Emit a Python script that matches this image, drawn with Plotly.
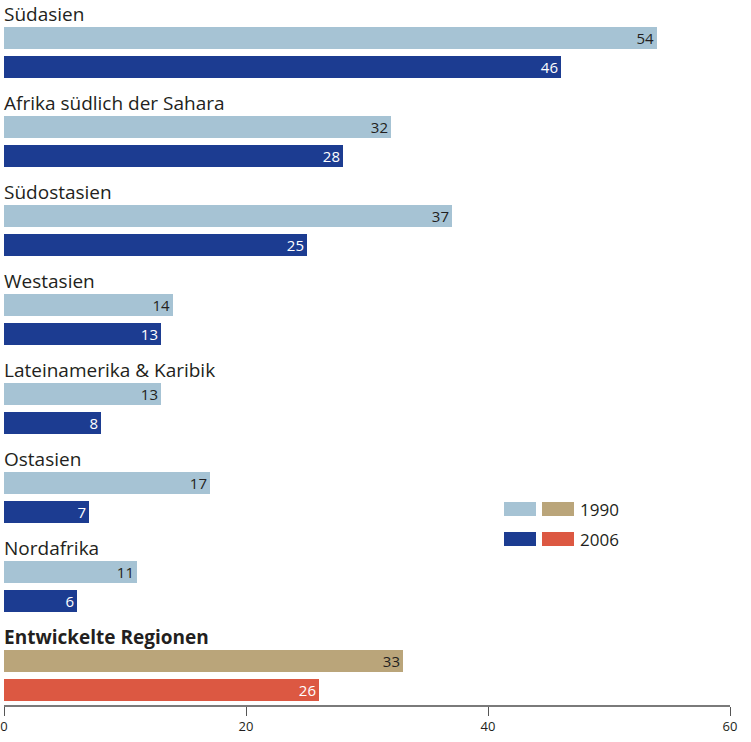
import plotly.graph_objects as go

regions = ["Südasien", "Afrika südlich der Sahara", "Südostasien", "Westasien",
           "Lateinamerika & Karibik", "Ostasien", "Nordafrika", "Entwickelte Regionen"]
v1990 = [54, 32, 37, 14, 13, 17, 11, 33]
v2006 = [46, 28, 25, 13, 8, 7, 6, 26]
legend_labels = ["1990", "2006"]
tick_vals = [0, 20, 40, 60]

C_LIGHT = "#a6c3d4"
C_DARK = "#1c3c91"
C_TAN = "#baa57a"
C_RED = "#dc5842"
TXT = "#231f20"
FONT = "Open Sans"

n = len(regions)
dev = n - 1
y1 = [i + 0.427 for i in range(n)]
y2 = [i + 0.753 for i in range(n)]
c1 = [C_TAN if i == dev else C_LIGHT for i in range(n)]
c2 = [C_RED if i == dev else C_DARK for i in range(n)]
t2col = ["white"] * n

fig = go.Figure()
fig.add_trace(go.Bar(x=v1990, y=y1, orientation="h", width=0.247,
                     marker=dict(color=c1, line=dict(width=0)),
                     text=[str(v) for v in v1990], textposition="inside",
                     insidetextanchor="end", textangle=0, constraintext="none",
                     textfont=dict(family=FONT, size=15, color=TXT),
                     showlegend=False, hoverinfo="skip"))
fig.add_trace(go.Bar(x=v2006, y=y2, orientation="h", width=0.247,
                     marker=dict(color=c2, line=dict(width=0)),
                     text=[str(v) for v in v2006], textposition="inside",
                     insidetextanchor="end", textangle=0, constraintext="none",
                     textfont=dict(family=FONT, size=15, color=t2col),
                     showlegend=False, hoverinfo="skip"))

ann = []
for i, r in enumerate(regions):
    ann.append(dict(x=0, y=i + 0.16, xref="x", yref="y", text=("<b>%s</b>" % r) if i == dev else r,
                    showarrow=False, xanchor="left", yanchor="middle", xshift=-2,
                    font=dict(family=FONT, size=19, color=TXT)))

# legend
def px(x): return (x - 4) / 726
def py(y): return 1 - y / 705
shapes = []
legend_rows = [(C_LIGHT, C_TAN, 502), (C_DARK, C_RED, 532)]
for (ca, cb, yt), lab in zip(legend_rows, legend_labels):
    shapes.append(dict(type="rect", xref="paper", yref="paper", x0=px(504), x1=px(536),
                       y0=py(yt + 14), y1=py(yt), fillcolor=ca, line=dict(width=0)))
    shapes.append(dict(type="rect", xref="paper", yref="paper", x0=px(542), x1=px(574),
                       y0=py(yt + 14), y1=py(yt), fillcolor=cb, line=dict(width=0)))
    ann.append(dict(x=px(578), y=py(yt + 7), xref="paper", yref="paper", text=lab,
                    showarrow=False, xanchor="left", yanchor="middle",
                    font=dict(family=FONT, size=17, color=TXT)))

fig.update_layout(
    width=751, height=742,
    margin=dict(l=4, r=21, t=0, b=37),
    paper_bgcolor="white", plot_bgcolor="white",
    barmode="overlay",
    bargap=0,
    xaxis=dict(range=[0, 60], tickvals=tick_vals, showgrid=False, zeroline=False,
               showline=True, linecolor="#7a7a7a", linewidth=1.5,
               ticks="outside", ticklen=9, tickcolor="#555555", tickwidth=1,
               tickfont=dict(family=FONT, size=13, color=TXT), fixedrange=True),
    yaxis=dict(range=[705 / 89, 0], showgrid=False, zeroline=False, showline=False,
               showticklabels=False, ticks="", fixedrange=True),
    annotations=ann, shapes=shapes,
)
fig.write_html("out.html")
